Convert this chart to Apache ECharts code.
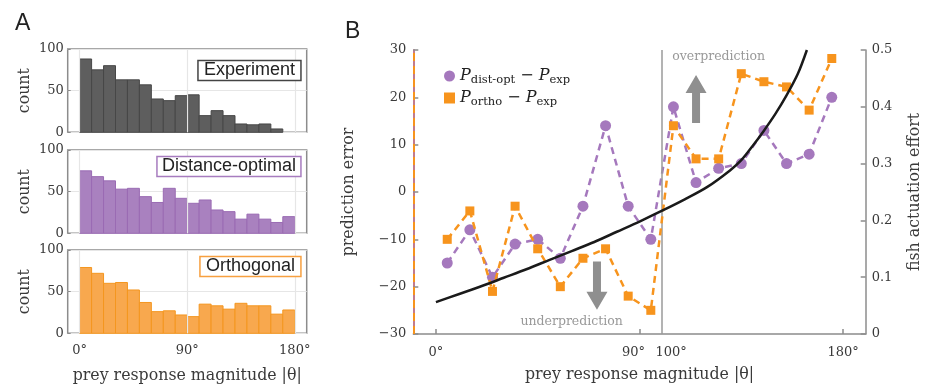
<!DOCTYPE html>
<html><head><meta charset="utf-8">
<script src="https://cdn.jsdelivr.net/npm/echarts@6/dist/echarts.min.js"></script>
<style>html,body{margin:0;padding:0;background:#fff}#c{width:927px;height:390px}</style>
</head><body><div id="c"></div>
<script>
// ---- data ----
const binEdges = [0,10,20,30,40,50,60,70,80,90,100,110,120,130,140,150,160,170,180];
const expCounts   = [88,75,80,63,63,57,40,38,44,45,20,26,20,10,9,10,4,0];
const distCounts  = [75,68,63,53,54,44,37,54,42,36,40,28,26,17,23,17,13,20];
const orthoCounts = [79,72,60,61,52,37,26,27,22,20,35,33,29,36,33,33,23,28];
const histTicks = [0,90,180];

const angleCenters = [5,15,25,35,45,55,65,75,85,95,105,115,125,135,145,155,165,175];
const distErr  = [-15,-8,-18,-11,-10,-14,-3,14,-3,-10,18,2,5,6,13,6,8,20];
const orthoErr = [-10,-4,-21,-3,-12,-20,-14,-12,-22,-25,14,7,7,25,23.3,22.2,17.3,28.2];
const effortAngles = [0,10,20,30,40,50,60,70,80,90,100,110,120,130,135,140,145,150,155,160,164];
const effortVals   = [0.056,0.070,0.084,0.099,0.114,0.130,0.146,0.162,0.180,0.198,0.217,0.237,0.259,0.288,0.306,0.331,0.358,0.387,0.420,0.458,0.500];
const bTickVals  = [0,90,180];
const bLabelVals = [0,90,100,180];
const thresholdAngle = 100;

const C_PURPLE = '#a578bd', C_ORANGE = '#f7941d';
const SERIF = '"DejaVu Serif", serif';
const SANS = '"Liberation Sans", Arial, sans-serif';
const TXT = '#3a3a3a';

const chart = echarts.init(document.getElementById('c'), null, {renderer:'canvas'});

function histRender(fill, stroke){
  return function(params, api){
    const x0 = api.value(0), x1 = api.value(1), v = api.value(2);
    if (!v) return null;
    const p0 = api.coord([x0, 0]), p1 = api.coord([x1, v]);
    return {type:'rect', shape:{x:p0[0], y:p1[1], width:p1[0]-p0[0], height:p0[1]-p1[1]},
      style:{fill:fill, stroke:stroke, lineWidth:1}};
  };
}
function histData(counts){ return counts.map((c,i)=>[binEdges[i], binEdges[i+1], c]); }

const histTops = [49, 150, 250];
const grids = histTops.map(t => ({left:67.7, top:t, width:239, height:83.3, show:true, borderColor:'#8c8c8c', borderWidth:1.5, backgroundColor:'transparent'}));
grids.push({left:413.3, top:50, width:452.4, height:284});

const xAxes = [], yAxes = [];
for (let i=0;i<3;i++){
  xAxes.push({type:'value', gridIndex:i, min:-10, max:190,
    axisLine:{show:false, onZero:false},
    axisTick:{show:true, inside:true, length:3, customValues:histTicks, lineStyle:{color:'#8c8c8c'}},
    axisLabel:{show:i===2, customValues:histTicks, formatter:v=>v+'°', fontFamily:SERIF, fontSize:13, color:TXT, margin:11},
    splitLine:{show:false},
    name: i===2 ? 'prey response magnitude |θ|' : '', nameLocation:'middle', nameGap:35,
    nameTextStyle:{fontFamily:SERIF, fontSize:15.8, color:TXT}});
  yAxes.push({type:'value', gridIndex:i, min:0, max:100, interval:50,
    axisLine:{show:false, onZero:false},
    axisTick:{show:true, inside:true, length:3, lineStyle:{color:'#8c8c8c'}},
    axisLabel:{fontFamily:SERIF, fontSize:13, color:TXT, margin:4},
    splitLine:{show:true, lineStyle:{color:'#e6e6e6', width:1.2}},
    name:'count', nameLocation:'middle', nameGap:35, nameRotate:90,
    nameTextStyle:{fontFamily:SERIF, fontSize:15.8, color:TXT}});
}
// panel B axes
xAxes.push({type:'value', gridIndex:3, min:-10, max:190,
  axisLine:{show:true, onZero:false, lineStyle:{color:'#8c8c8c', width:1.5}},
  axisTick:{show:true, inside:true, length:5, customValues:bTickVals, lineStyle:{color:'#8c8c8c', width:1.5}},
  axisLabel:{customValues:bLabelVals, fontFamily:SERIF, fontSize:13, color:TXT, margin:12,
    formatter:v=> v===90 ? '{s|90°}' : (v===100 ? '{t|100°}' : v+'°'),
    rich:{s:{fontFamily:SERIF, fontSize:13, color:TXT, padding:[0,12,0,0]},
          t:{fontFamily:SERIF, fontSize:13, color:TXT, padding:[0,0,0,18]}}},
  splitLine:{show:false},
  name:'prey response magnitude |θ|', nameLocation:'middle', nameGap:33,
  nameTextStyle:{fontFamily:SERIF, fontSize:15.8, color:TXT}});
yAxes.push({type:'value', gridIndex:3, min:-30, max:30, interval:10, position:'left',
  axisLine:{show:true, onZero:false, lineStyle:{color:'#c27b8c', width:2}},
  axisTick:{show:true, inside:true, length:5, lineStyle:{color:'#8c8c8c', width:1.5}},
  axisLabel:{fontFamily:SERIF, fontSize:13, color:TXT, margin:7, formatter:v=> v<0 ? '\u2212'+(-v) : ''+v},
  splitLine:{show:false},
  name:'prediction error', nameLocation:'middle', nameGap:56, nameRotate:90,
  nameTextStyle:{fontFamily:SERIF, fontSize:15.8, color:TXT}});
yAxes.push({type:'value', gridIndex:3, min:0, max:0.5, interval:0.1, position:'right',
  axisLine:{show:true, onZero:false, lineStyle:{color:'#8c8c8c', width:1.5}},
  axisTick:{show:true, inside:true, length:5, lineStyle:{color:'#8c8c8c', width:1.5}},
  axisLabel:{fontFamily:SERIF, fontSize:13, color:TXT, margin:6, formatter:v=> v===0 ? '0' : v.toFixed(1)},
  splitLine:{show:false},
  name:'fish actuation effort', nameLocation:'middle', nameGap:41, nameRotate:90,
  nameTextStyle:{fontFamily:SERIF, fontSize:15.8, color:TXT}});

const gridLineStyle = {color:'#e6e6e6', width:1.2, type:'solid'};
const series = [];
[[expCounts,'#5e5e5e','#474747'],[distCounts,'#a981bf','#9a6bb3'],[orthoCounts,'#f8a84e','#f4961f']].forEach((d,i)=>{
  series.push({type:'line', xAxisIndex:i, yAxisIndex:i, data:[], z:1, silent:true,
    markLine:{silent:true, symbol:'none', label:{show:false}, lineStyle:gridLineStyle,
      data: histTicks.map(v=>({xAxis:v}))}});
  series.push({type:'custom', xAxisIndex:i, yAxisIndex:i, data:histData(d[0]), renderItem:histRender(d[1], d[2]), z:3});
});

series.push({name:'dist', type:'line', xAxisIndex:3, yAxisIndex:3,
  data: angleCenters.map((a,i)=>[a, distErr[i]]),
  symbol:'circle', symbolSize:11, itemStyle:{color:C_PURPLE},
  lineStyle:{color:C_PURPLE, width:2.5, type:[7,5]}, z:4});
series.push({name:'ortho', type:'line', xAxisIndex:3, yAxisIndex:3,
  data: angleCenters.map((a,i)=>[a, orthoErr[i]]),
  symbol:'rect', symbolSize:9, itemStyle:{color:C_ORANGE},
  lineStyle:{color:C_ORANGE, width:2.5, type:[7,5]}, z:5,
  markLine:{silent:true, symbol:'none', label:{show:false},
    lineStyle:{color:C_ORANGE, width:2, type:[8,5]}, data:[{xAxis:-10}]}});
series.push({name:'effort', type:'line', xAxisIndex:3, yAxisIndex:4,
  data: effortAngles.map((a,i)=>[a, effortVals[i]]), smooth:0.3,
  symbol:'none', lineStyle:{color:'#1a1a1a', width:2.5}, z:6,
  markLine:{silent:true, symbol:'none', label:{show:false},
    lineStyle:{color:'#9a9a9a', width:1.5, type:'solid'}, data:[{xAxis:thresholdAngle}]}});

const richLegend = {
  P:{fontFamily:SERIF, fontStyle:'italic', fontSize:16, color:'#222'},
  s:{fontFamily:SERIF, fontSize:11.5, color:'#222', padding:[8,0,0,0]},
  m:{fontFamily:SERIF, fontSize:16, color:'#222'}
};

chart.setOption({
  animation:false,
  backgroundColor:'#fff',
  title:[
    {text:'A', left:10, top:7, textStyle:{fontFamily:SANS, fontSize:23, fontWeight:'normal', color:'#222'}},
    {text:'B', left:340, top:15, textStyle:{fontFamily:SANS, fontSize:23, fontWeight:'normal', color:'#222'}},
    {text:'Experiment', right:626, top:60.5, padding:[1,6], borderColor:'#444', borderWidth:1.5, backgroundColor:'#fff',
      textStyle:{fontFamily:SANS, fontSize:18, fontWeight:'normal', color:'#222'}},
    {text:'Distance-optimal', right:626, top:156.5, padding:[1,5], borderColor:'#a77cbf', borderWidth:1.5, backgroundColor:'#fff',
      textStyle:{fontFamily:SANS, fontSize:18, fontWeight:'normal', color:'#222'}},
    {text:'Orthogonal', right:626, top:256.5, padding:[1,6], borderColor:'#f7a040', borderWidth:1.5, backgroundColor:'#fff',
      textStyle:{fontFamily:SANS, fontSize:18, fontWeight:'normal', color:'#222'}}
  ],
  legend:{data:[{name:'dist', icon:'circle'},{name:'ortho', icon:'rect'}], orient:'vertical', left:439, top:63,
    itemWidth:11, itemHeight:11, itemGap:4,
    formatter: n => n==='dist' ? '{P|P}{s|dist-opt}{m| \u2212 }{P|P}{s|exp}' : '{P|P}{s|ortho}{m| \u2212 }{P|P}{s|exp}',
    textStyle:{rich:richLegend}},
  grid:grids, xAxis:xAxes, yAxis:yAxes, series:series
});

// annotation arrows and texts (data coords in panel B)
const arrowUp = {x:115, yFrom:14.6, yTo:24.7};
const arrowDown = {x:71.2, yFrom:-14.7, yTo:-24.9};
function arrowShape(a){
  const p0 = chart.convertToPixel({gridIndex:3}, [a.x, a.yFrom]);
  const p1 = chart.convertToPixel({gridIndex:3}, [a.x, a.yTo]);
  const dir = p1[1] < p0[1] ? -1 : 1;
  const hw = 4, hh = 10.5, hl = 18;
  const x = p0[0], yb = p1[1] - dir*hl;
  return {type:'polygon', shape:{points:[[x-hw,p0[1]],[x+hw,p0[1]],[x+hw,yb],[x+hh,yb],[x,p1[1]],[x-hh,yb],[x-hw,yb]]},
    style:{fill:'#8f8f8f'}, z:10};
}
const tOver = chart.convertToPixel({gridIndex:3}, [125, 28.5]);
const tUnder = chart.convertToPixel({gridIndex:3}, [60, -27.5]);
chart.setOption({graphic:[
  arrowShape(arrowUp), arrowShape(arrowDown),
  {type:'text', x:tOver[0], y:tOver[1], style:{text:'overprediction', fill:'#999', font:'12.5px '+SERIF, align:'center', verticalAlign:'middle'}, z:10},
  {type:'text', x:tUnder[0], y:tUnder[1], style:{text:'underprediction', fill:'#999', font:'12.5px '+SERIF, align:'center', verticalAlign:'middle'}, z:10}
]});
</script></body></html>
